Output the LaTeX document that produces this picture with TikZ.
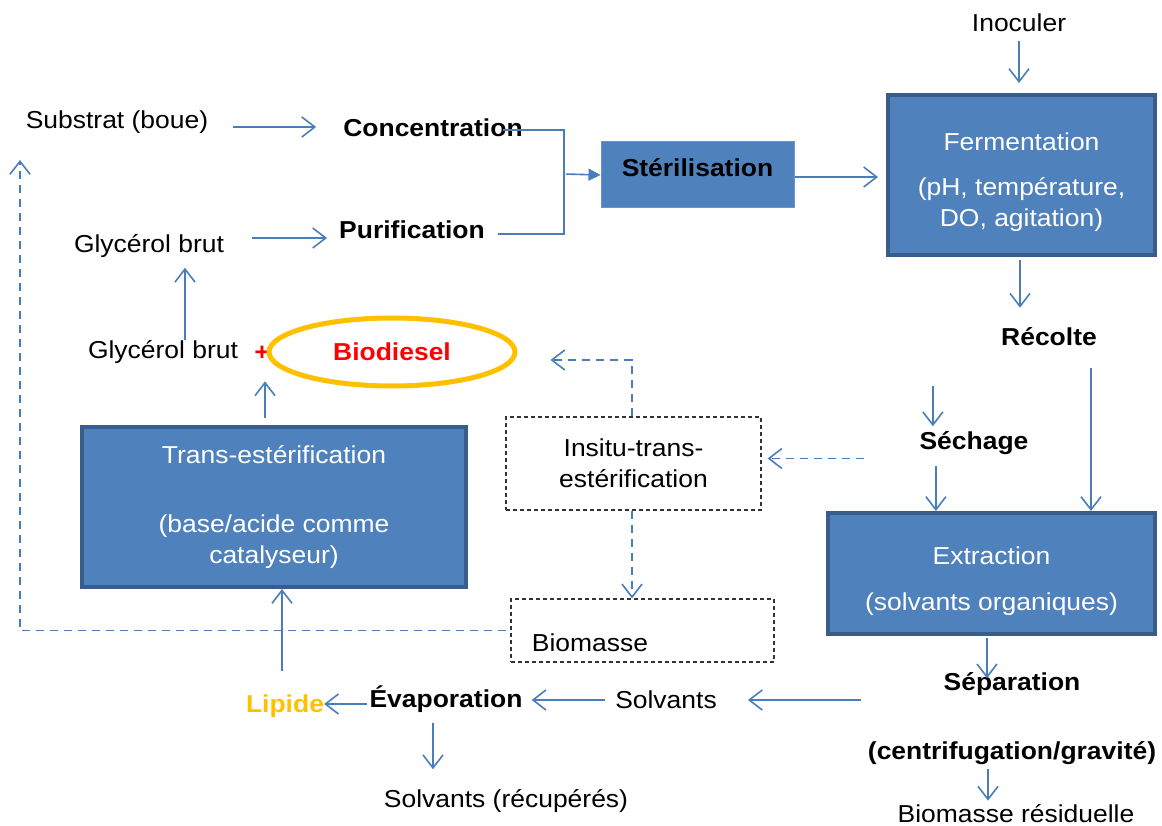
\documentclass[tikz,border=0pt]{standalone}
\usepackage{fontspec}
\setmainfont{Liberation Sans}[FakeStretch=1.08]
\usepackage{xcolor}
\usetikzlibrary{arrows.meta, positioning, shapes.geometric, calc}
\definecolor{flowblue}{HTML}{4A7EBB}
\definecolor{boxblue}{HTML}{4F81BD}
\definecolor{boxedge}{HTML}{385D8A}
\definecolor{gold}{HTML}{FFC000}
\newcommand{\diagfont}{\fontsize{24.5}{31}\selectfont}

\begin{document}
\begin{tikzpicture}[x=1pt, y=-1pt, >={Straight Barb[length=13pt,width=20pt]}]
% Define styles for boxes, plain texts and arrows
\tikzstyle{block} = [draw=boxedge, fill=boxblue, line width=4pt, text=white, align=center, font=\diagfont]
\tikzstyle{lightblock} = [draw=boxblue!85!white, fill=boxblue, line width=1pt, font=\diagfont\bfseries]
\tikzstyle{dashbox} = [draw=black!80, dash pattern=on 4pt off 3pt, line width=1.2pt, align=center, font=\diagfont]
\tikzstyle{txt} = [inner sep=0pt, font=\diagfont]
\tikzstyle{stage} = [inner sep=0pt, font=\diagfont\bfseries]
\tikzstyle{flow} = [draw=flowblue, line width=1.6pt, ->]
\tikzstyle{dflow} = [flow, dash pattern=on 8pt off 6pt]

\useasboundingbox (0,0) rectangle (1162,826);

% Nodes placement
\node [txt] (inoc) at (1019,23) {Inoculer};
\node [block, minimum width=267, minimum height=160] (ferm) at (1021.5,175) {\rule{0pt}{33pt}Fermentation\\[14pt](pH, température,\\DO, agitation)};
\node [lightblock, minimum width=193, minimum height=66] (ster) at (697.5,175) {\rule[-14pt]{0pt}{14pt}Stérilisation};

\node [txt] (sub) at (117,122) {Substrat (boue)};
\node [stage] (conc) at (433,128) {Concentration};
\node [txt] (glyup) at (149,246) {Glycérol brut};
\node [stage] (puri) at (412,230) {Purification};

\node [txt] (glylow) at (163,352) {Glycérol brut};
\node [stage, text=red] (plus) at (262,353) {+};
\node [ellipse, draw=gold, line width=5pt, minimum width=246, minimum height=68, font=\diagfont\bfseries, text=red] (bio) at (392,352) {Biodiesel};
\node [block, minimum width=384, minimum height=160] (trans) at (274,507) {Trans-estérification\\[38pt](base/acide comme\\catalyseur)};

\node [dashbox, minimum width=255, minimum height=93] (insitu) at (633.5,463.5) {Insitu-trans-\\estérification};
\node [dashbox, minimum width=263, minimum height=63] (biobox) at (642.5,630.5) {};
\node [txt] (biom) at (590,643) {Biomasse};

\node [stage] (recolte) at (1049,337) {Récolte};
\node [stage] (sech) at (974,443) {Séchage};
\node [block, minimum width=327, minimum height=121] (extr) at (991.5,573.5) {\rule{0pt}{33pt}Extraction\\[15pt](solvants organiques)};
\node [stage] (sep) at (1012,684) {Séparation};
\node [stage] (centri) at (1012,753) {(centrifugation/gravité)};
\node [txt] (biores) at (1016,814) {Biomasse résiduelle};

\node [txt] (solv) at (666,700) {Solvants};
\node [stage] (evap) at (446,699) {Évaporation};
\node [stage, text=gold] (lip) at (285,706) {Lipide};
\node [txt] (solvr) at (506,801) {Solvants (récupérés)};

\coordinate (merge) at (564,174);
\coordinate (back) at (20,160);

% Draw edges
\draw[flow, shorten <=25pt, shorten >=27pt] ([yshift=1pt]sub.east |- conc) -- ([yshift=1pt]conc.west);
\draw[flow, shorten <=28pt, shorten >=12pt] ([yshift=8pt]glyup.east) -- ([yshift=8pt]glyup.east -| puri.west);
\draw[flow, -] ([xshift=-20pt,yshift=-2pt]conc.east) -| (merge);
\draw[flow, -] ([xshift=13pt,yshift=-4pt]puri.east) -| (merge);
\draw[flow, -{Triangle[length=12pt,width=12pt]}, shorten <=2pt] (merge) -- (ster.west);
\draw[flow, shorten >=8pt] ([yshift=-2pt]ster.east) -- ([yshift=-2pt]ster.east -| ferm.west);
\draw[flow, shorten <=9pt, shorten >=10pt] (inoc.south) -- (inoc.south |- ferm.north);
\draw[flow, shorten <=3pt, shorten >=20pt] ([xshift=-1.5pt]ferm.south) -- ([xshift=-1.5pt]ferm.south |- recolte.north);
\draw[flow, shorten <=22pt] ([xshift=-6pt]recolte.south east) -- ([xshift=-6pt]recolte.south east |- extr.north);
\draw[flow] ([xshift=13.5pt,yshift=45pt]sech.north west) -- ([xshift=13.5pt,yshift=5pt]sech.north west);
\draw[flow, shorten <=11pt] ([xshift=16.5pt]sech.south west) -- ([xshift=16.5pt]sech.south west |- extr.north);
\draw[flow, shorten <=2pt, shorten >=-6pt] ([xshift=-4.5pt]extr.south) -- ([xshift=-4.5pt]extr.south |- sep.north);
\draw[flow, shorten <=4pt, shorten >=4pt] ([xshift=-24pt]centri.south) -- ([xshift=-24pt]centri.south |- biores.north);

% Solvent line back to the lipid
\draw[flow, shorten <=82pt, shorten >=31pt] (solv.east -| sep.west) -- (solv.east);
\draw[flow, shorten <=10pt, shorten >=9pt] (solv.west) -- (solv.west -| evap.east);
\draw[flow, shorten <=2pt] ([yshift=-5pt]evap.west) -- ([yshift=-5pt]evap.west -| lip.east);
\draw[flow, shorten <=10pt, shorten >=20pt] ([xshift=-13pt]evap.south) -- ([xshift=-13pt]evap.south |- solvr.north);
\draw[flow, shorten <=23pt] ([xshift=-3pt]lip.north) -- ([xshift=-3pt]lip.north |- trans.south);
\draw[flow, shorten <=7pt, shorten >=21pt] ([xshift=-9pt]trans.north) -- ([xshift=-9pt]trans.north |- plus.south);
\draw[flow, shorten >=10pt] ([xshift=22pt]glylow.north) -- ([xshift=22pt]glylow.north |- glyup.south);

% Dashed in-situ route
\draw[dflow, shorten >=33pt] ([xshift=-1.5pt]insitu.north) |- ([yshift=-8pt]bio.east);
\draw[dflow, shorten <=55pt, shorten >=6pt] ([yshift=5pt]insitu.east -| sech.west) -- ([yshift=5pt]insitu.east);
\draw[dflow] ([xshift=-1.5pt]insitu.south) -- ([xshift=-1.5pt]insitu.south |- biobox.north);
\draw[dflow, shorten <=4pt] (biobox.west) -| (back);
\end{tikzpicture}
\end{document}
